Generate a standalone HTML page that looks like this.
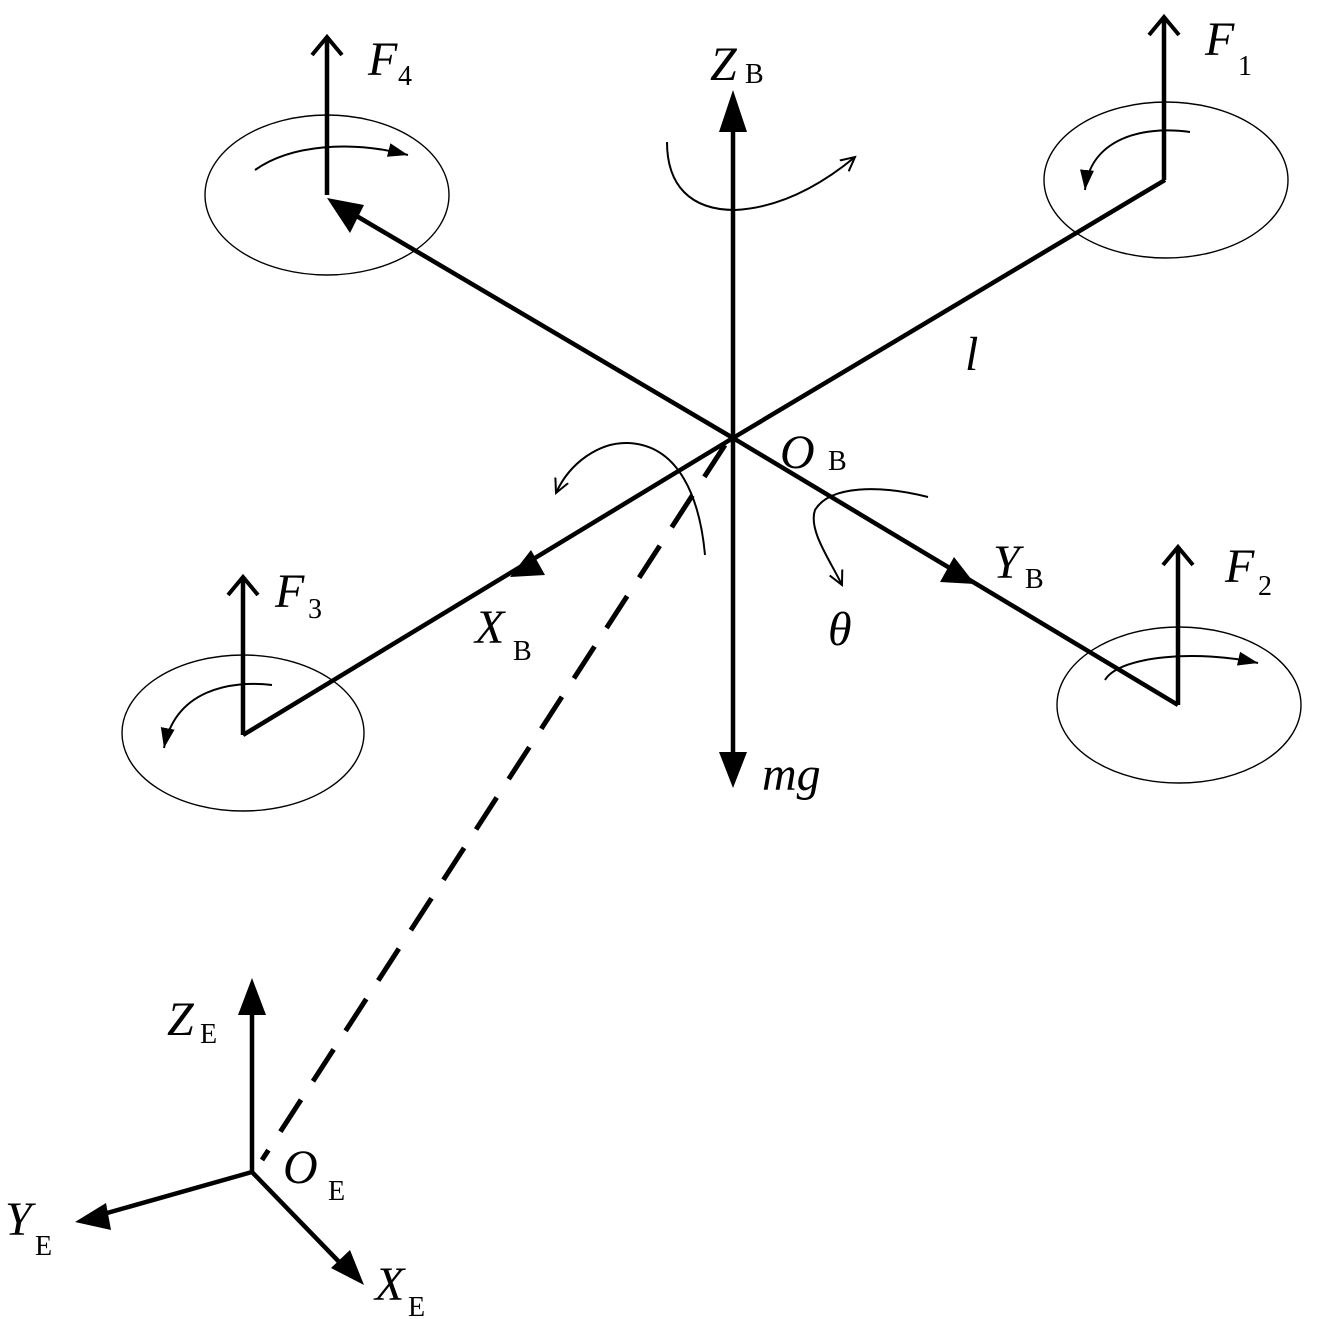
<!DOCTYPE html>
<html><head><meta charset="utf-8"><style>
html,body{margin:0;padding:0;background:#fff}
svg{display:block}
text{font-family:"Liberation Serif",serif;fill:#000}
</style></head><body>
<svg width="1319" height="1319" viewBox="0 0 1319 1319" xmlns="http://www.w3.org/2000/svg">
<defs>
<marker id="open" markerWidth="16" markerHeight="16" refX="14" refY="8" orient="auto" markerUnits="userSpaceOnUse">
<path d="M0,1 L14,8 L0,15" fill="none" stroke="#000" stroke-width="2"/></marker>
<marker id="fill" markerWidth="22" markerHeight="16" refX="20" refY="8" orient="auto" markerUnits="userSpaceOnUse">
<path d="M0,1 L20,8 L0,15 Z" fill="#000"/></marker>
</defs>
<g fill="none" stroke="#000">
<ellipse cx="327" cy="195" rx="122" ry="80" stroke-width="1.4"/>
<ellipse cx="1166" cy="180" rx="122" ry="78" stroke-width="1.4"/>
<ellipse cx="243" cy="733" rx="121" ry="78" stroke-width="1.4"/>
<ellipse cx="1179" cy="705" rx="122" ry="78" stroke-width="1.4"/>
<g stroke-width="4.5">
<line x1="733" y1="438" x2="1165" y2="180"/>
<line x1="733" y1="438" x2="338" y2="205"/>
<line x1="733" y1="438" x2="243" y2="735"/>
<line x1="733" y1="438" x2="1178" y2="705"/>
<line x1="733" y1="125" x2="733" y2="755"/>
<line x1="327" y1="195" x2="327" y2="40"/>
<line x1="1164" y1="180" x2="1164" y2="20"/>
<line x1="243" y1="735" x2="243" y2="580"/>
<line x1="1178" y1="705" x2="1178" y2="550"/>
<line x1="252" y1="1172" x2="252" y2="1005"/>
<line x1="252" y1="1172" x2="100" y2="1215"/>
<line x1="252" y1="1172" x2="345" y2="1268"/>
</g>
<g stroke-width="4">
<path d="M312,55 L327,37 L342,55"/>
<path d="M1149,35 L1164,17 L1179,35"/>
<path d="M228,595 L243,577 L258,595"/>
<path d="M1163,565 L1178,547 L1193,565"/>
</g>
<line x1="725" y1="445" x2="262" y2="1160" stroke-width="5" stroke-dasharray="38,22"/>
<g stroke-width="2">
<path d="M667,142 C667,185 690,210 735,210 C775,208 815,190 855,157" marker-end="url(#open)"/>
<path d="M705,555 C700,500 680,445 628,443 C600,442 570,462 556,493" marker-end="url(#open)"/>
<path d="M928,497 C880,485 830,485 815,510 C808,530 830,560 842,585" marker-end="url(#open)"/>
<path d="M255,170 C290,145 350,140 408,155" marker-end="url(#fill)"/>
<path d="M1190,132 C1140,125 1090,140 1085,190" marker-end="url(#fill)"/>
<path d="M272,685 C230,680 175,690 164,748" marker-end="url(#fill)"/>
<path d="M1105,680 C1120,655 1200,650 1258,663" marker-end="url(#fill)"/>
</g>
</g>
<g fill="#000">
<polygon points="733,90 719,132 747,132"/>
<polygon points="733,788 719,752 747,752"/>
<polygon points="327,198 364,205 350,233"/>
<polygon points="510,577 545,575 531,550"/>
<polygon points="975,584 940,582 954,557"/>
<polygon points="252,978 238,1015 266,1015"/>
<polygon points="75,1222 106,1203 111,1230"/>
<polygon points="364,1285 331,1268 350,1250"/>
</g>
<g font-style="italic" font-size="48">
<text x="368" y="75">F</text><text x="1205" y="55">F</text>
<text x="275" y="607">F</text><text x="1225" y="582">F</text>
<text x="710" y="80">Z</text>
<text x="965" y="370">l</text>
<text x="780" y="468">O</text>
<text x="993" y="578">Y</text>
<text x="475" y="643">X</text>
<text x="828" y="645">θ</text>
<text x="762" y="790">mg</text>
<text x="167" y="1035">Z</text>
<text x="283" y="1183">O</text>
<text x="5" y="1235">Y</text>
<text x="375" y="1300">X</text>
</g>
<g font-size="28">
<text x="398" y="85">4</text><text x="1238" y="75">1</text>
<text x="308" y="618">3</text><text x="1258" y="595">2</text>
<text x="745" y="83">B</text>
<text x="828" y="470">B</text>
<text x="1025" y="588">B</text>
<text x="513" y="660">B</text>
<text x="200" y="1043">E</text>
<text x="328" y="1200">E</text>
<text x="35" y="1255">E</text>
<text x="408" y="1316">E</text>
</g>
</svg>
</body></html>
